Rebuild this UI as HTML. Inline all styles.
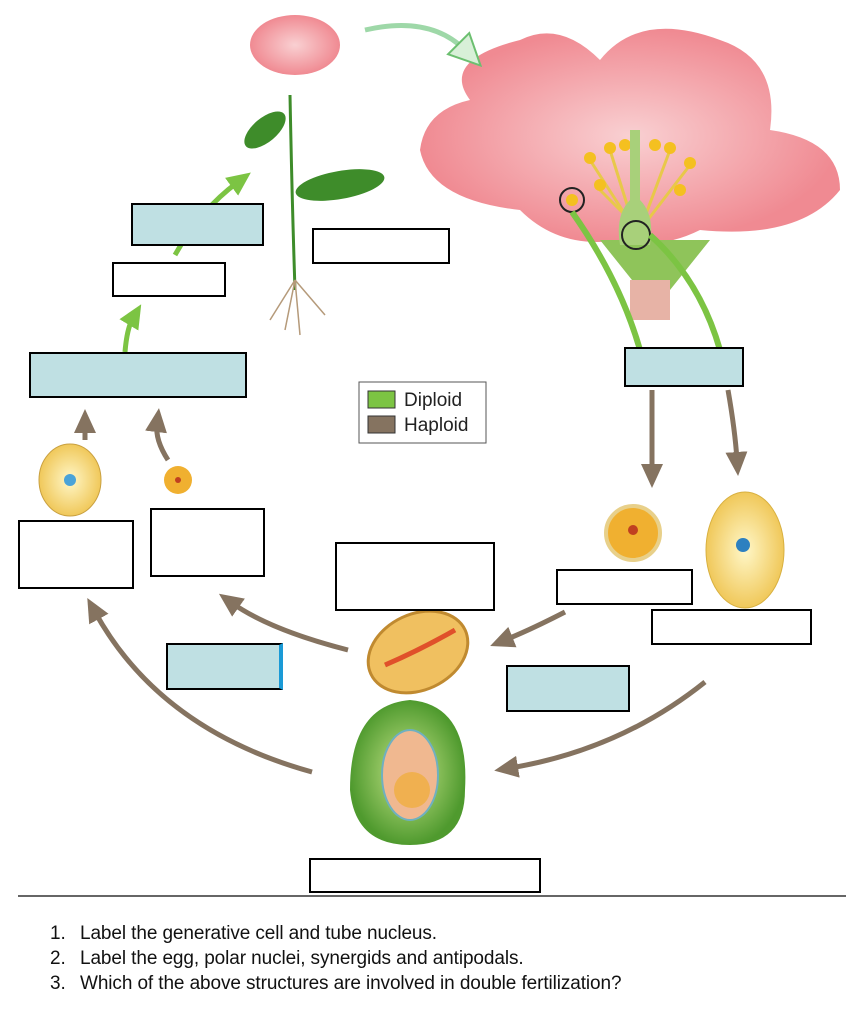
<!DOCTYPE html>
<html><head><meta charset="utf-8"><style>
body{margin:0;background:#fff;width:846px;height:1024px;overflow:hidden;font-family:"Liberation Sans",sans-serif}
.b{position:absolute;border:2px solid #000;box-sizing:border-box;background:#fff}
.c{background:#bfe0e3}
.q{position:absolute;left:50px;font-size:19px;color:#111;white-space:nowrap;letter-spacing:-0.1px}
.q span{position:absolute;left:30px}
</style></head><body>
<svg width="846" height="1024" style="position:absolute;left:0;top:0">
<defs>
<marker id="ab" markerUnits="userSpaceOnUse" markerWidth="24" markerHeight="24" refX="8" refY="12" orient="auto"><path d="M0,1L24,12L0,23z" fill="#857360"/></marker>
<marker id="ag" markerUnits="userSpaceOnUse" markerWidth="24" markerHeight="24" refX="8" refY="12" orient="auto"><path d="M0,1L24,12L0,23z" fill="#7cc443"/></marker>
<marker id="ag2" markerUnits="userSpaceOnUse" markerWidth="34" markerHeight="34" refX="10" refY="17" orient="auto"><path d="M1,2L32,17L1,32z" fill="#d8f0d8" stroke="#6cbf70" stroke-width="2"/></marker>
<radialGradient id="pk"><stop offset="0" stop-color="#f9d0d2"/><stop offset="1" stop-color="#f08a92"/></radialGradient>
<radialGradient id="yl"><stop offset="0" stop-color="#fff7c8"/><stop offset="1" stop-color="#f0c85a"/></radialGradient>
<radialGradient id="gr"><stop offset="0" stop-color="#c8e68a"/><stop offset="1" stop-color="#4f9a2e"/></radialGradient>
</defs>
<path d="M470,100 Q440,60 520,40 Q560,20 600,60 Q640,10 720,40 Q780,60 770,130 Q840,140 840,190 Q800,240 700,230 Q660,250 620,240 Q560,250 520,210 Q430,200 420,150 Q425,110 470,100z" fill="url(#pk)"/>
<path d="M600,240 L710,240 L670,290 L640,290z" fill="#8fc45a"/>
<rect x="630" y="280" width="40" height="40" fill="#e7b3a6"/>
<g stroke="#e8c84a" stroke-width="3">
<line x1="635" y1="230" x2="590" y2="160"/><line x1="635" y1="230" x2="610" y2="150"/><line x1="640" y1="230" x2="670" y2="150"/><line x1="640" y1="230" x2="690" y2="165"/><line x1="640" y1="230" x2="600" y2="190"/></g>
<g fill="#f4c020"><circle cx="590" cy="158" r="6"/><circle cx="610" cy="148" r="6"/><circle cx="625" cy="145" r="6"/><circle cx="655" cy="145" r="6"/><circle cx="670" cy="148" r="6"/><circle cx="690" cy="163" r="6"/><circle cx="600" cy="185" r="6"/><circle cx="680" cy="190" r="6"/></g>
<path d="M630,130 L640,130 L640,200 Q655,215 650,245 L620,245 Q615,215 630,200z" fill="#a8d07a"/>
<circle cx="572" cy="200" r="12" fill="none" stroke="#222" stroke-width="2"/><circle cx="572" cy="200" r="6" fill="#f4c020"/>
<circle cx="636" cy="235" r="14" fill="none" stroke="#222" stroke-width="2"/>
<path d="M572,212 Q620,280 640,350" stroke="#7cc443" stroke-width="6" fill="none"/>
<path d="M650,235 Q700,280 720,350" stroke="#7cc443" stroke-width="6" fill="none"/>
<path d="M365,30 Q430,15 465,50" stroke="#9ed8a8" stroke-width="5" fill="none" marker-end="url(#ag2)"/>
<ellipse cx="295" cy="45" rx="45" ry="30" fill="url(#pk)"/>
<path d="M290,95 Q292,200 295,290" stroke="#3e8c2a" stroke-width="3" fill="none"/>
<ellipse cx="265" cy="130" rx="25" ry="12" fill="#3e8c2a" transform="rotate(-40 265 130)"/>
<ellipse cx="340" cy="185" rx="45" ry="14" fill="#3e8c2a" transform="rotate(-10 340 185)"/>
<g stroke="#b59a7a" stroke-width="1.5"><line x1="295" y1="280" x2="270" y2="320"/><line x1="295" y1="280" x2="300" y2="335"/><line x1="295" y1="280" x2="325" y2="315"/><line x1="295" y1="280" x2="285" y2="330"/></g>
<path d="M175,255 Q200,210 238,182" stroke="#7cc443" stroke-width="5" fill="none" marker-end="url(#ag)"/>
<path d="M125,352 Q127,328 133,318" stroke="#7cc443" stroke-width="5" fill="none" marker-end="url(#ag)"/>
<g stroke="#857360" stroke-width="5" fill="none">
<path d="M85,440 L85,425" marker-end="url(#ab)"/>
<path d="M168,460 Q155,440 157,424" marker-end="url(#ab)"/>
<path d="M652,390 L652,472" marker-end="url(#ab)"/>
<path d="M728,390 Q735,430 737,460" marker-end="url(#ab)"/>
<path d="M565,612 Q530,630 505,640" marker-end="url(#ab)"/>
<path d="M348,650 Q270,630 232,603" marker-end="url(#ab)"/>
<path d="M705,682 Q620,750 510,768" marker-end="url(#ab)"/>
<path d="M312,772 Q160,730 95,612" marker-end="url(#ab)"/>
</g>
<ellipse cx="70" cy="480" rx="31" ry="36" fill="url(#yl)" stroke="#c9a040"/><circle cx="70" cy="480" r="6" fill="#4aa3d8"/>
<circle cx="178" cy="480" r="14" fill="#f0b030"/><circle cx="178" cy="480" r="3" fill="#c04020"/>
<circle cx="633" cy="533" r="27" fill="#f0b030" stroke="#e8d08a" stroke-width="4"/><circle cx="633" cy="530" r="5" fill="#c04020"/>
<ellipse cx="745" cy="550" rx="39" ry="58" fill="url(#yl)" stroke="#d8b040"/><circle cx="743" cy="545" r="7" fill="#2d80c0"/>
<ellipse cx="418" cy="652" rx="52" ry="38" fill="#f0c060" stroke="#c08a30" stroke-width="3" transform="rotate(-25 418 652)"/>
<path d="M385,665 Q420,650 455,630" stroke="#e0502a" stroke-width="5"/>
<path d="M350,790 Q350,705 410,700 Q470,705 465,790 Q465,845 410,845 Q355,845 350,790z" fill="url(#gr)"/>
<ellipse cx="410" cy="775" rx="28" ry="45" fill="#f0b890" stroke="#6fb0c0" stroke-width="2"/>
<circle cx="412" cy="790" r="18" fill="#f0b050"/>
<rect x="359" y="382" width="127" height="61" fill="#fff" stroke="#555"/>
<rect x="368" y="391" width="27" height="17" fill="#7cc443" stroke="#333"/>
<rect x="368" y="416" width="27" height="17" fill="#857360" stroke="#333"/>
<text x="404" y="406" font-size="19" fill="#222">Diploid</text>
<text x="404" y="431" font-size="19" fill="#222">Haploid</text>
<line x1="18" y1="896" x2="846" y2="896" stroke="#333" stroke-width="1.5"/>
</svg>
<div class="b c" style="left:131px;top:203px;width:133px;height:43px"></div>
<div class="b" style="left:312px;top:228px;width:138px;height:36px"></div>
<div class="b" style="left:112px;top:262px;width:114px;height:35px"></div>
<div class="b c" style="left:29px;top:352px;width:218px;height:46px"></div>
<div class="b c" style="left:624px;top:347px;width:120px;height:40px"></div>
<div class="b" style="left:18px;top:520px;width:116px;height:69px"></div>
<div class="b" style="left:150px;top:508px;width:115px;height:69px"></div>
<div class="b" style="left:335px;top:542px;width:160px;height:69px"></div>
<div class="b" style="left:556px;top:569px;width:137px;height:36px"></div>
<div class="b" style="left:651px;top:609px;width:161px;height:36px"></div>
<div class="b c" style="left:166px;top:643px;width:117px;height:47px;border-right:4px solid #1a9ad6"></div>
<div class="b c" style="left:506px;top:665px;width:124px;height:47px"></div>
<div class="b" style="left:309px;top:858px;width:232px;height:35px"></div>
<div class="q" style="top:923px">1.<span>Label the generative cell and tube nucleus.</span></div>
<div class="q" style="top:948px">2.<span>Label the egg, polar nuclei, synergids and antipodals.</span></div>
<div class="q" style="top:973px">3.<span>Which of the above structures are involved in double fertilization?</span></div>
</body></html>
